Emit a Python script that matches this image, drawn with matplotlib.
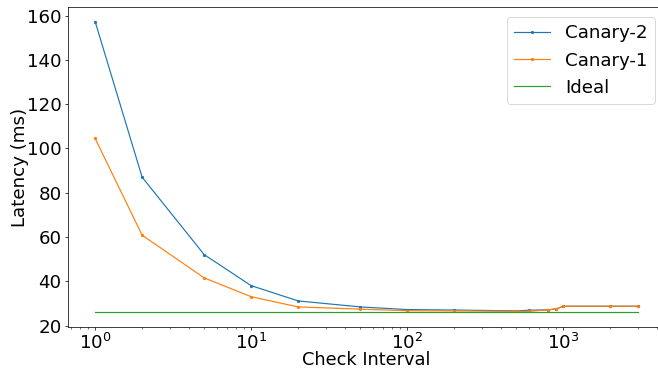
import matplotlib
matplotlib.use("Agg")
import matplotlib.pyplot as plt

intervals = [1, 2, 5, 10, 20, 50, 100, 200, 500, 600, 800, 900, 1000, 2000, 3000]
canary2 = [157.3, 87.0, 52.0, 38.0, 31.1, 28.4, 27.2, 27.0, 26.6, 26.9, 27.1, 27.5, 28.7, 28.7, 28.7]
canary1 = [104.5, 60.8, 41.5, 33.0, 28.4, 27.4, 26.7, 26.6, 26.4, 26.4, 27.1, 27.5, 28.7, 28.7, 28.7]
ideal_x = [1, 3000]
ideal_y = [25.9, 25.9]

DPI = 65.8
fig = plt.figure(figsize=(658 / DPI, 368 / DPI), dpi=DPI)
ax = fig.add_axes([68/658, 41/368, 597/658, 320/368])
ax.plot(intervals, canary2, marker='.', markersize=5, linewidth=1.3, color='C0', label='Canary-2')
ax.plot(intervals, canary1, marker='.', markersize=5, linewidth=1.3, color='C1', label='Canary-1')
ax.plot(ideal_x, ideal_y, linewidth=1.3, color='C2', label='Ideal')
ax.set_xscale('log')
ax.set_xlabel('Check Interval', fontsize=19.5, labelpad=-2.5)
ax.set_ylabel('Latency (ms)', fontsize=20, labelpad=-2)
ax.tick_params(labelsize=20)
ax.set_yticks([20, 40, 60, 80, 100, 120, 140, 160])
ax.legend(fontsize=20, loc='upper right', borderaxespad=0.55)
fig.savefig('out.png', dpi=DPI)
